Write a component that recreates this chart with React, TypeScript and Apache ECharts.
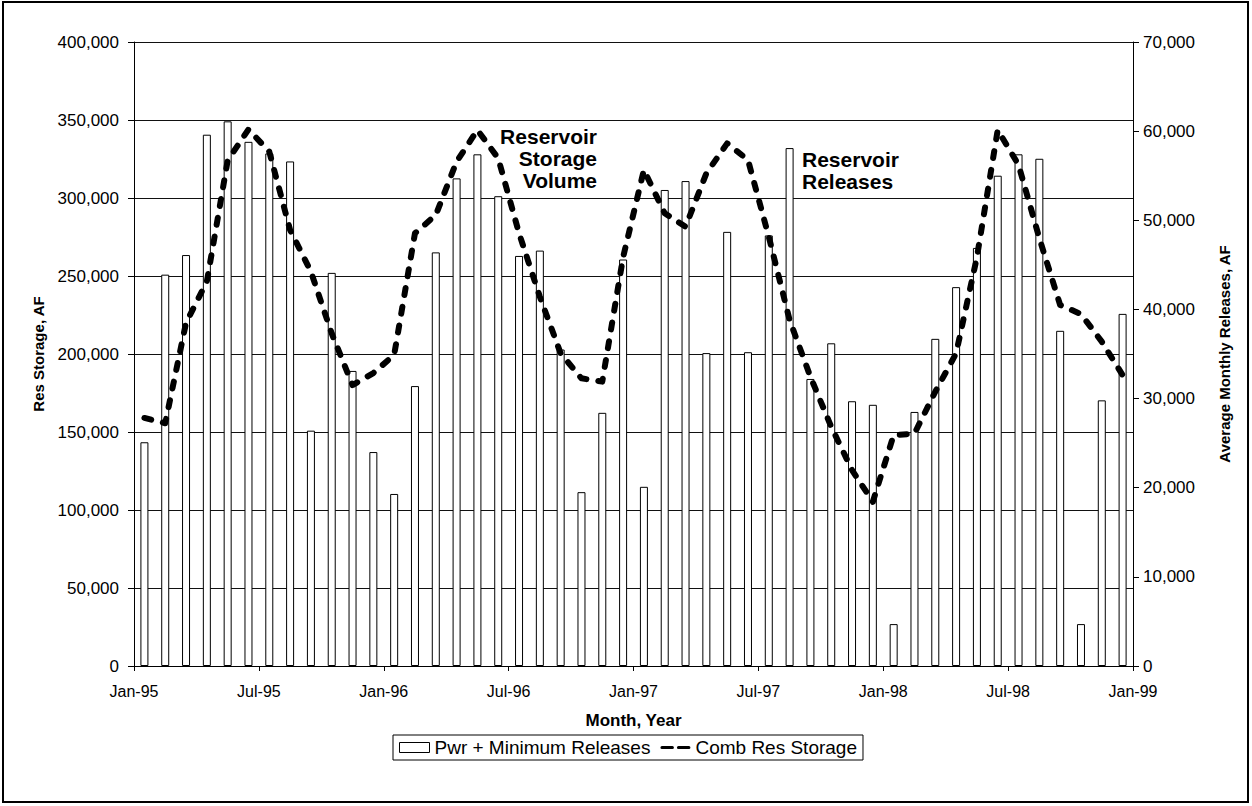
import React, { useEffect, useRef } from "react";
import * as echarts from "echarts";

// Months Jan-95 .. Dec-98 (48 monthly values)
const months: string[] = [];
for (let y = 1995; y <= 1998; y++) {
  for (let m = 1; m <= 12; m++) months.push(`${y}-${String(m).padStart(2, "0")}`);
}

const xTickLabels = ["Jan-95", "Jul-95", "Jan-96", "Jul-96", "Jan-97", "Jul-97", "Jan-98", "Jul-98", "Jan-99"];

// Pwr + Minimum Releases, average monthly releases (AF), right axis
const releases = [
  25100, 43900, 46100, 59600, 61100, 58800, 57500, 56600, 26400, 44100, 33100, 24000,
  19300, 31400, 46400, 54700, 57400, 52700, 46000, 46600, 35500, 19500, 28400, 45600,
  20100, 53400, 54400, 35100, 48700, 35200, 48300, 58100, 32200, 36200, 29700, 29300,
  4700, 28500, 36700, 42500, 46900, 55000, 57400, 56900, 37600, 4700, 29800, 39500,
];

// Comb Res Storage (AF), left axis
const storage = [
  159000, 155600, 220000, 246400, 324000, 344000, 329700, 279500, 252800, 213200, 180100, 187800,
  199400, 277400, 289100, 323300, 343600, 325400, 277400, 236700, 200400, 184400, 182300, 262000,
  318000, 290200, 281600, 315800, 335000, 324400, 275200, 221800, 185400, 153400, 125600, 105300,
  148000, 149000, 175800, 200400, 262000, 343600, 321200, 274200, 231400, 225600, 207900, 186500,
];

const FONT = "'Liberation Sans', Arial, Helvetica, sans-serif";

const fmt = (v: number) => v.toLocaleString("en-US");

// two short rounded dashes, used as the legend icon of the dashed line
const DASH_ICON =
  "path://M2,0 L16,0 A2,2 0 0 1 16,4 L2,4 A2,2 0 0 1 2,0 Z M24,0 L38,0 A2,2 0 0 1 38,4 L24,4 A2,2 0 0 1 24,0 Z";

export default function App() {
  const ref = useRef<HTMLDivElement>(null);

  useEffect(() => {
    document.body.style.margin = "0";
    if (!ref.current) return;
    const chart = echarts.init(ref.current, null, { renderer: "svg" });

    const barData = months.map((_, i) => [i + 0.5, releases[i]]);
    const lineData = months.map((_, i) => [i + 0.5, storage[i]]);

    chart.setOption({
      animation: false,
      backgroundColor: "#fff",
      textStyle: { fontFamily: FONT, color: "#000" },
      grid: { left: 134, right: 119, top: 42, bottom: 140, containLabel: false },
      legend: {
        left: 393,
        top: 735,
        padding: [3, 6],
        itemGap: 10,
        itemWidth: 30,
        itemHeight: 10,
        borderColor: "#000",
        borderWidth: 1,
        textStyle: { fontFamily: FONT, fontSize: 19, color: "#000" },
        data: [
          { name: "Pwr + Minimum Releases", icon: "rect", itemStyle: { color: "#fff", borderColor: "#000", borderWidth: 1 } },
          { name: "Comb Res Storage", icon: DASH_ICON, itemStyle: { color: "#000", borderWidth: 0 } },
        ],
      },
      xAxis: {
        type: "value",
        min: 0,
        max: 48,
        interval: 6,
        name: "Month, Year",
        nameLocation: "middle",
        nameGap: 46,
        nameTextStyle: { fontFamily: FONT, fontSize: 17, fontWeight: "bold", color: "#000" },
        axisLine: { show: true, lineStyle: { color: "#000", width: 1 } },
        axisTick: { show: true, length: 5, lineStyle: { color: "#000" } },
        axisLabel: {
          margin: 17,
          fontFamily: FONT,
          fontSize: 16,
          color: "#000",
          formatter: (v: number) => xTickLabels[Math.round(v / 6)] ?? "",
        },
        splitLine: { show: false },
      },
      yAxis: [
        {
          type: "value",
          min: 0,
          max: 400000,
          interval: 50000,
          position: "left",
          name: "Res Storage, AF",
          nameLocation: "middle",
          nameGap: 88,
          nameTextStyle: { fontFamily: FONT, fontSize: 15, fontWeight: "bold", color: "#000" },
          axisLine: { show: true, lineStyle: { color: "#000", width: 1 } },
          axisTick: { show: true, length: 6, lineStyle: { color: "#000" } },
          axisLabel: { margin: 15, fontFamily: FONT, fontSize: 17, color: "#000", formatter: fmt },
          splitLine: { show: true, lineStyle: { color: "#111", width: 1 } },
        },
        {
          type: "value",
          min: 0,
          max: 70000,
          interval: 10000,
          position: "right",
          name: "Average Monthly Releases, AF",
          nameLocation: "middle",
          nameGap: 84,
          nameTextStyle: { fontFamily: FONT, fontSize: 15, fontWeight: "bold", color: "#000" },
          axisLine: { show: true, lineStyle: { color: "#000", width: 1 } },
          axisTick: { show: true, length: 6, lineStyle: { color: "#000" } },
          axisLabel: { margin: 10, fontFamily: FONT, fontSize: 17, color: "#000", formatter: fmt },
          splitLine: { show: false },
        },
      ],
      series: [
        {
          name: "Pwr + Minimum Releases",
          type: "bar",
          yAxisIndex: 1,
          barWidth: 8,
          data: barData,
          itemStyle: { color: "#fff", borderColor: "#000", borderWidth: 1 },
          z: 2,
        },
        {
          name: "Comb Res Storage",
          type: "line",
          yAxisIndex: 0,
          data: lineData,
          symbol: "none",
          showSymbol: false,
          itemStyle: { color: "#000" },
          lineStyle: { color: "#000", width: 6, type: [7, 12], cap: "round", join: "round" },
          z: 3,
        },
      ],
      graphic: [
        {
          type: "rect",
          shape: { x: 3, y: 2, width: 1245, height: 800 },
          style: { fill: "none", stroke: "#000", lineWidth: 2 },
          silent: true,
          z: 100,
        },
        {
          type: "text",
          x: 597,
          y: 125,
          style: {
            text: "Reservoir\nStorage\nVolume",
            align: "right",
            fontFamily: FONT,
            fontSize: 21,
            fontWeight: "bold",
            lineHeight: 22,
            fill: "#000",
          },
          z: 50,
        },
        {
          type: "text",
          x: 802,
          y: 148,
          style: {
            text: "Reservoir\nReleases",
            align: "left",
            fontFamily: FONT,
            fontSize: 21,
            fontWeight: "bold",
            lineHeight: 22,
            fill: "#000",
          },
          z: 50,
        },
      ],
    });

    return () => chart.dispose();
  }, []);

  return <div ref={ref} style={{ width: 1252, height: 806 }} />;
}
